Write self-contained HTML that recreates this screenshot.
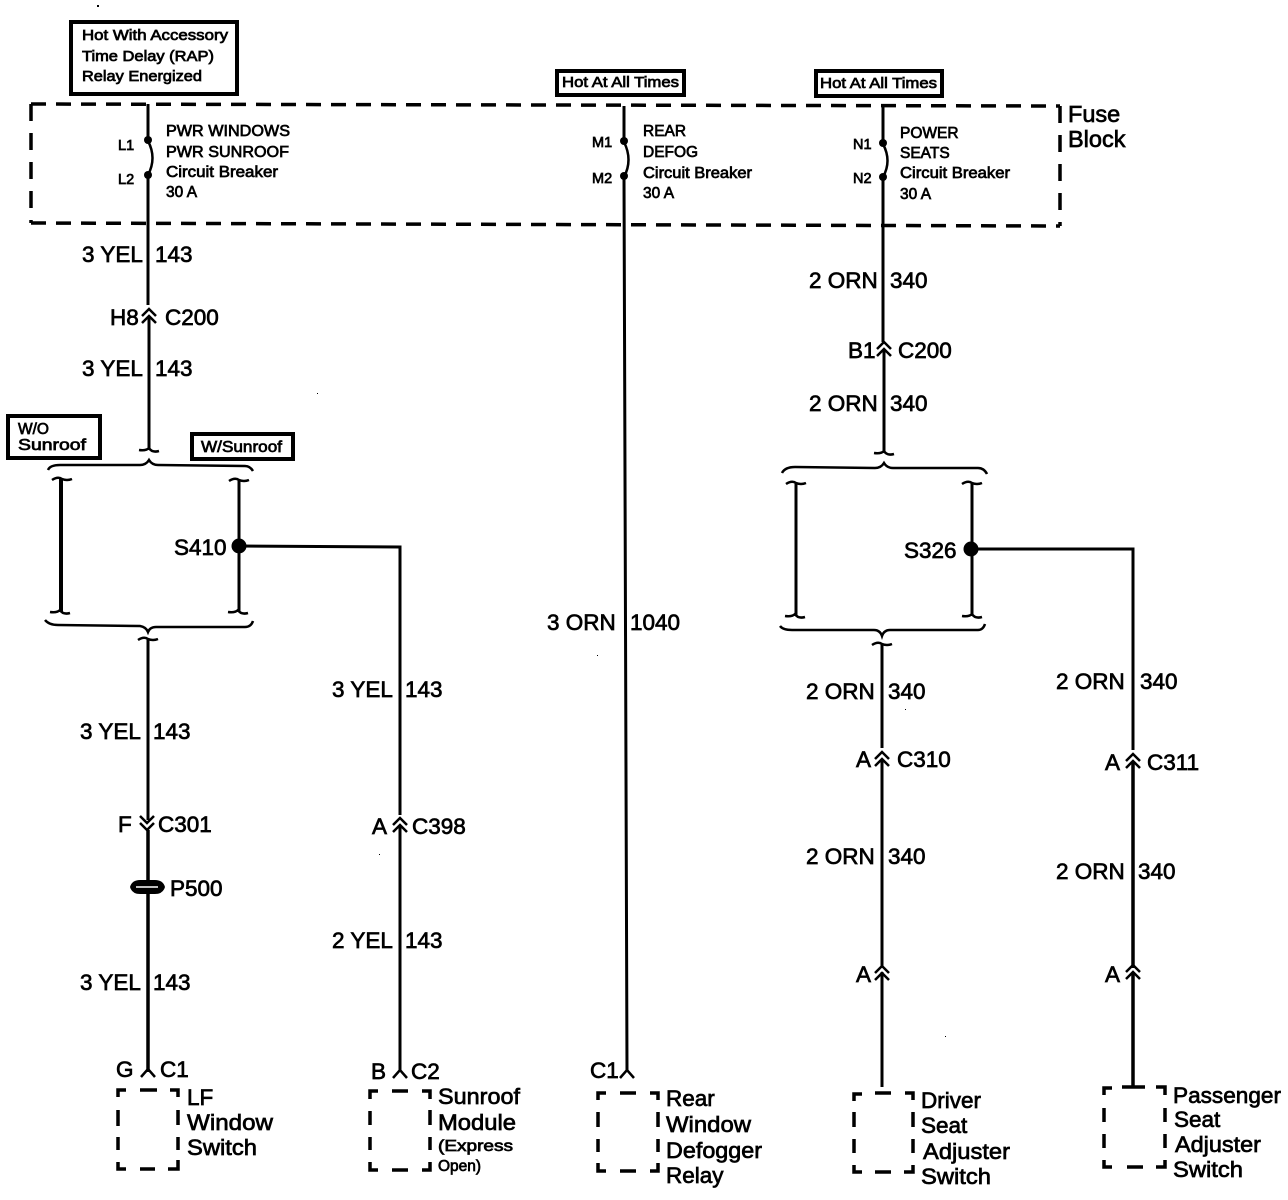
<!DOCTYPE html>
<html><head><meta charset="utf-8"><style>
html,body{margin:0;padding:0;background:#fff}
svg{display:block}
text{font-family:"Liberation Sans",sans-serif;fill:#000;stroke:#000;stroke-width:.7}
.l{font-size:22.5px}
.s{font-size:15.5px}
.m{font-size:14.5px}
.b{font-size:23.5px}
.w{fill:none;stroke:#000;stroke-width:3}
.n{fill:none;stroke:#000;stroke-width:2.5}
.d{fill:none;stroke:#000;stroke-width:3.5}
</style></head><body>
<svg width="1288" height="1200" viewBox="0 0 1288 1200" xmlns="http://www.w3.org/2000/svg">
<defs>
<g id="up" fill="none" stroke="#000" stroke-width="2.5"><path d="M-7,3 L0,-4 L7,3"/><path d="M-7,10 L0,3 L7,10"/></g>
<g id="dn" fill="none" stroke="#000" stroke-width="2.5"><path d="M-7,-3 L0,4 L7,-3"/><path d="M-7,-10 L0,-3 L7,-10"/></g>
<path id="cap" d="M-10,1 Q-4,-3 0,0 Q5,2 10,0" fill="none" stroke="#000" stroke-width="2.5"/>
<path id="foot" d="M-10,-1 Q-3,0 0,-3 Q3,2 10,0" fill="none" stroke="#000" stroke-width="2.5"/>
</defs>

<!-- header boxes -->
<rect x="71" y="22" width="166" height="72" fill="none" stroke="#000" stroke-width="4"/>
<text class="m" x="82" y="40" textLength="146" lengthAdjust="spacingAndGlyphs">Hot With Accessory</text>
<text class="m" x="82" y="61" textLength="132" lengthAdjust="spacingAndGlyphs">Time Delay (RAP)</text>
<text class="m" x="82" y="81" textLength="120" lengthAdjust="spacingAndGlyphs">Relay Energized</text>
<rect x="557" y="71" width="127" height="24" fill="none" stroke="#000" stroke-width="4"/>
<text class="m" x="562" y="87" textLength="117" lengthAdjust="spacingAndGlyphs">Hot At All Times</text>
<rect x="816" y="71" width="126" height="25" fill="none" stroke="#000" stroke-width="4"/>
<text class="m" x="820" y="88" textLength="117" lengthAdjust="spacingAndGlyphs">Hot At All Times</text>

<!-- fuse block -->
<path class="d" stroke-dasharray="15 10" d="M31,104 L1060,106"/>
<path class="d" stroke-dasharray="15 10" d="M31,223 L1060,226"/>
<path class="d" stroke-dasharray="17 12" d="M31,104 L31,223"/>
<path class="d" stroke-dasharray="17 12" d="M1060,106 L1060,226"/>
<text class="b" x="1068" y="122">Fuse</text>
<text class="b" x="1068" y="147">Block</text>

<!-- wire 1 -->
<path class="w" d="M148,104 V140 M148,175 V305"/>
<path class="n" d="M148,141 Q157,158 148,175"/>
<circle cx="148" cy="140" r="4"/><circle cx="148" cy="175" r="4"/>
<text class="m" x="118" y="150">L1</text><text class="m" x="118" y="184">L2</text>
<text class="s" x="166" y="136" textLength="124" lengthAdjust="spacingAndGlyphs">PWR WINDOWS</text>
<text class="s" x="166" y="157" textLength="123" lengthAdjust="spacingAndGlyphs">PWR SUNROOF</text>
<text class="s" x="166" y="177" textLength="112" lengthAdjust="spacingAndGlyphs">Circuit Breaker</text>
<text class="s" x="166" y="197">30 A</text>
<text class="l" x="82" y="262">3 YEL</text><text class="l" x="155" y="262">143</text>
<use href="#up" x="149" y="313"/>
<text class="l" x="110" y="325">H8</text><text class="l" x="165" y="325">C200</text>
<path class="w" d="M149,316 V450"/>
<text class="l" x="82" y="376">3 YEL</text><text class="l" x="155" y="376">143</text>
<use href="#foot" x="149" y="451"/>

<!-- W/O, W/ -->
<rect x="8" y="416" width="92" height="42" fill="none" stroke="#000" stroke-width="4"/>
<text class="s" x="18" y="434">W/O</text>
<text class="s" x="18" y="450" textLength="68" lengthAdjust="spacingAndGlyphs">Sunroof</text>
<rect x="192" y="434" width="101" height="25" fill="none" stroke="#000" stroke-width="4"/>
<text class="s" x="201" y="452" textLength="81" lengthAdjust="spacingAndGlyphs">W/Sunroof</text>

<!-- brace left -->
<path class="n" d="M48,470 Q50,465 60,465 L140,465 Q146,465 149,460 Q152,465 158,465 L245,466 Q250,466 253,471"/>
<use href="#cap" x="62" y="479"/><use href="#cap" x="239" y="480"/>
<path class="w" style="stroke-width:4" d="M61,478 V612"/>
<path class="w" d="M239,480 V612"/>
<use href="#foot" x="60" y="613"/><use href="#foot" x="238" y="613"/>
<circle cx="239" cy="546" r="7.5"/>
<text class="l" x="174" y="555">S410</text>
<path class="w" d="M239,546 L400,547 V815"/>
<path class="n" d="M45,620 Q49,625 58,625 L140,626 Q146,627 148,632 Q150,627 156,627 L245,627 Q251,627 253,621"/>
<use href="#cap" x="148" y="639"/>
<path class="w" d="M148,639 V820"/>
<text class="l" x="80" y="739">3 YEL</text><text class="l" x="153" y="739">143</text>
<use href="#dn" x="147" y="826"/>
<text class="l" x="118" y="832">F</text><text class="l" x="158" y="832">C301</text>
<path class="w" style="stroke-width:3.5" d="M148,830 V1072"/>
<path d="M130,887 Q132,880 140,880 H155 Q163,880 165,887 Q163,894 155,894 H140 Q132,894 130,887 Z" fill="#000"/>
<path d="M136,887 H158" stroke="#fff" stroke-width="1.5"/>
<text class="l" x="170" y="896">P500</text>
<text class="l" x="80" y="990">3 YEL</text><text class="l" x="153" y="990">143</text>
<path class="n" d="M141,1077 L148,1069 L155,1077"/>
<text class="l" x="116" y="1077">G</text><text class="l" x="160" y="1077">C1</text>

<!-- LF box -->
<g fill="none" stroke="#000" stroke-width="3.5">
<path d="M118,1097 V1090 H126 M140,1090 H157 M170,1090 H178 V1097 M118,1110 V1126 M178,1110 V1125 M118,1137 V1150 M178,1137 V1150 M118,1162 V1169 H126 M140,1169 H155 M168,1169 H178 V1160"/>
</g>
<text class="l" x="187" y="1105">LF</text>
<text class="l" x="187" y="1130" textLength="86" lengthAdjust="spacingAndGlyphs">Window</text>
<text class="l" x="187" y="1155" textLength="70" lengthAdjust="spacingAndGlyphs">Switch</text>

<!-- sunroof branch -->
<text class="l" x="332" y="697">3 YEL</text><text class="l" x="405" y="697">143</text>
<use href="#up" x="400" y="822"/>
<text class="l" x="372" y="834">A</text><text class="l" x="412" y="834">C398</text>
<path class="w" d="M400,826 V1072"/>
<text class="l" x="332" y="948">2 YEL</text><text class="l" x="405" y="948">143</text>
<path class="n" d="M393,1078 L400,1070 L407,1078"/>
<text class="l" x="371" y="1079">B</text><text class="l" x="411" y="1079">C2</text>
<g fill="none" stroke="#000" stroke-width="3.5">
<path d="M370,1099 V1091 H378 M392,1091 H408 M422,1091 H430 V1099 M370,1111 V1125 M430,1110 V1125 M370,1137 V1150 M430,1137 V1150 M370,1162 V1170 H378 M392,1170 H408 M422,1170 H430 V1162"/>
</g>
<text class="l" x="438" y="1104" textLength="82" lengthAdjust="spacingAndGlyphs">Sunroof</text>
<text class="l" x="438" y="1130" textLength="78" lengthAdjust="spacingAndGlyphs">Module</text>
<text class="s" x="438" y="1151" textLength="75" lengthAdjust="spacingAndGlyphs">(Express</text>
<text class="s" x="438" y="1171">Open)</text>

<!-- wire M -->
<path class="w" d="M624,106 V141 M624,177 L627,1072"/>
<path class="n" d="M624,142 Q633,160 624,177"/>
<circle cx="624" cy="141" r="4"/><circle cx="624" cy="176" r="4"/>
<text class="m" x="592" y="147">M1</text><text class="m" x="592" y="183">M2</text>
<text class="s" x="643" y="136">REAR</text>
<text class="s" x="643" y="157">DEFOG</text>
<text class="s" x="643" y="178" textLength="109" lengthAdjust="spacingAndGlyphs">Circuit Breaker</text>
<text class="s" x="643" y="198">30 A</text>
<text class="l" x="547" y="630">3 ORN</text><text class="l" x="630" y="630">1040</text>
<path class="n" d="M620,1078 L627,1070 L634,1078"/>
<text class="l" x="590" y="1078">C1</text>
<g fill="none" stroke="#000" stroke-width="3.5">
<path d="M598,1100 V1093 H606 M620,1093 H636 M650,1093 H658 V1100 M598,1112 V1127 M658,1112 V1127 M598,1139 V1152 M658,1139 V1152 M598,1163 V1171 H606 M620,1171 H636 M650,1171 H658 V1163"/>
</g>
<text class="l" x="666" y="1106">Rear</text>
<text class="l" x="666" y="1132" textLength="85" lengthAdjust="spacingAndGlyphs">Window</text>
<text class="l" x="666" y="1158" textLength="96" lengthAdjust="spacingAndGlyphs">Defogger</text>
<text class="l" x="666" y="1183">Relay</text>

<!-- wire N -->
<path class="w" d="M883,106 V143 M883,177 V342"/>
<path class="n" d="M883,144 Q892,161 883,177"/>
<circle cx="883" cy="143" r="4"/><circle cx="883" cy="177" r="4"/>
<text class="m" x="853" y="149">N1</text><text class="m" x="853" y="183">N2</text>
<text class="s" x="900" y="138">POWER</text>
<text class="s" x="900" y="158">SEATS</text>
<text class="s" x="900" y="178" textLength="110" lengthAdjust="spacingAndGlyphs">Circuit Breaker</text>
<text class="s" x="900" y="199">30 A</text>
<text class="l" x="809" y="288">2 ORN</text><text class="l" x="890" y="288">340</text>
<use href="#up" x="884" y="346"/>
<text class="l" x="848" y="358">B1</text><text class="l" x="898" y="358">C200</text>
<path class="w" d="M884,350 V453"/>
<text class="l" x="809" y="411">2 ORN</text><text class="l" x="890" y="411">340</text>
<use href="#foot" x="884" y="454"/>

<path class="n" d="M782,473 Q785,467 795,467 L875,468 Q881,468 884,463 Q887,468 893,468 L978,468 Q984,468 987,474"/>
<use href="#cap" x="796" y="483"/><use href="#cap" x="972" y="483"/>
<path class="w" d="M796,483 V616 M972,483 V616"/>
<use href="#foot" x="795" y="617"/><use href="#foot" x="972" y="617"/>
<circle cx="971" cy="549" r="7.5"/>
<text class="l" x="904" y="558">S326</text>
<path class="w" d="M971,549 H1133 V750"/>
<path class="n" d="M780,626 Q783,630 792,630 L874,630 Q880,630 882,636 Q884,630 890,630 L978,630 Q983,630 985,624"/>
<use href="#cap" x="882" y="644"/>
<path class="w" d="M882,644 V748"/>
<text class="l" x="806" y="699">2 ORN</text><text class="l" x="888" y="699">340</text>
<use href="#up" x="882" y="756"/>
<text class="l" x="856" y="767">A</text><text class="l" x="897" y="767">C310</text>
<path class="w" d="M882,760 V968"/>
<text class="l" x="806" y="864">2 ORN</text><text class="l" x="888" y="864">340</text>
<use href="#up" x="882" y="970"/>
<text class="l" x="856" y="982">A</text>
<path class="w" d="M882,972 V1087"/>
<g fill="none" stroke="#000" stroke-width="3.5">
<path d="M854,1101 V1094 H862 M875,1093 H891 M905,1093 H913 V1100 M854,1112 V1127 M913,1112 V1127 M854,1139 V1153 M913,1139 V1153 M854,1165 V1172 H862 M875,1172 H891 M904,1172 H913 V1165"/>
</g>
<text class="l" x="921" y="1108">Driver</text><text class="l" x="921" y="1133">Seat</text>
<text class="l" x="923" y="1159" textLength="87" lengthAdjust="spacingAndGlyphs">Adjuster</text>
<text class="l" x="921" y="1184" textLength="70" lengthAdjust="spacingAndGlyphs">Switch</text>

<!-- right branch -->
<text class="l" x="1056" y="689">2 ORN</text><text class="l" x="1140" y="689">340</text>
<use href="#up" x="1133" y="758"/>
<text class="l" x="1105" y="770">A</text><text class="l" x="1147" y="770">C311</text>
<path class="w" style="stroke-width:3.5" d="M1133,762 V968"/>
<text class="l" x="1056" y="879">2 ORN</text><text class="l" x="1138" y="879">340</text>
<use href="#up" x="1133" y="969"/>
<text class="l" x="1105" y="982">A</text>
<path class="w" style="stroke-width:3.5" d="M1133,972 V1087"/>
<g fill="none" stroke="#000" stroke-width="3.5">
<path d="M1122,1087 H1145 M1104,1095 V1088 H1112 M1156,1087 H1165 V1095 M1104,1108 V1122 M1165,1108 V1122 M1104,1134 V1148 M1165,1134 V1148 M1104,1160 V1167 H1112 M1127,1167 H1143 M1156,1167 H1165 V1160"/>
</g>
<text class="l" x="1173" y="1103" textLength="108" lengthAdjust="spacingAndGlyphs">Passenger</text><text class="l" x="1174" y="1127">Seat</text>
<text class="l" x="1175" y="1152" textLength="86" lengthAdjust="spacingAndGlyphs">Adjuster</text>
<text class="l" x="1173" y="1177" textLength="70" lengthAdjust="spacingAndGlyphs">Switch</text>

<!-- specks -->
<g fill="#000"><rect x="97" y="5" width="2" height="2"/><rect x="317" y="393" width="1" height="1"/><rect x="597" y="655" width="1" height="1"/><rect x="905" y="709" width="1" height="1"/><rect x="379" y="854" width="1" height="1"/><rect x="945" y="1036" width="1" height="1"/></g>
</svg>
</body></html>
